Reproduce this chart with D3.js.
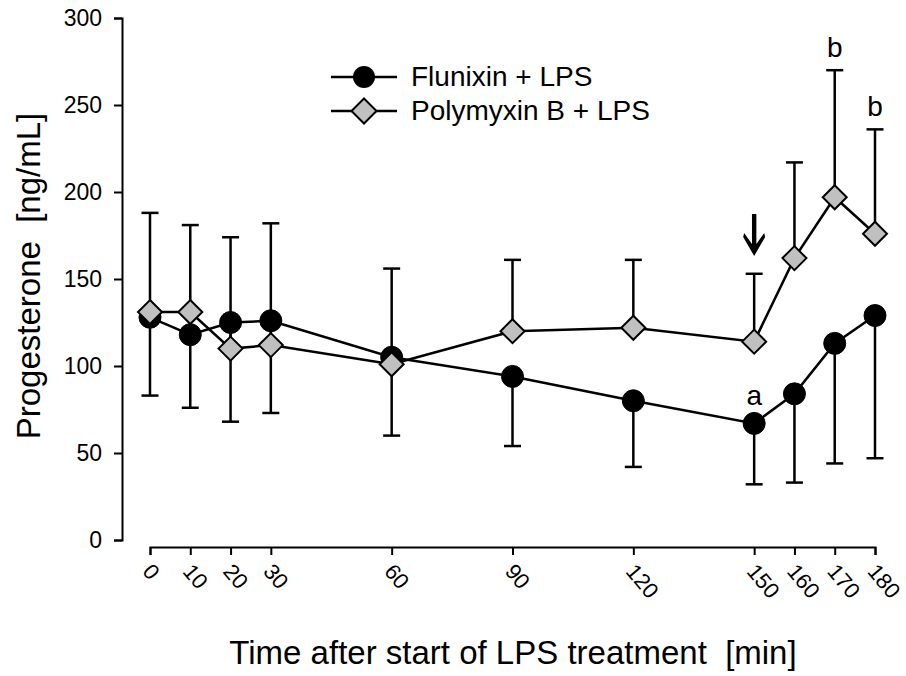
<!DOCTYPE html>
<html>
<head>
<meta charset="utf-8">
<script src="https://cdn.jsdelivr.net/npm/d3@7"></script>
<style>
  body { margin: 0; background: #fff; }
  svg { display: block; font-family: "Liberation Sans", Arial, sans-serif; }
</style>
</head>
<body>
<svg id="chart" width="906" height="676"></svg>
<script>
// ---- data ----
const times = [0, 10, 20, 30, 60, 90, 120, 150, 160, 170, 180];
const flunixinMean = [128, 118, 125, 126, 105, 94, 80, 67, 84, 113, 129];
const flunixinLower = [83, 76, 68, 73, 60, 54, 42, 32, 33, 44, 47];
const polymyxinMean = [131, 131, 110, 112, 101, 120, 122, 114, 162, 197, 176];
const polymyxinUpper = [188, 181, 174, 182, 156, 161, 161, 153, 217, 270, 236];
const yTicks = [0, 50, 100, 150, 200, 250, 300];
const seriesNames = ["Flunixin + LPS", "Polymyxin B + LPS"];
const sigLabels = [
  { t: 150, v: 67, text: "a", series: "low" },
  { t: 170, v: 270, text: "b", series: "up" },
  { t: 180, v: 236, text: "b", series: "up" }
];
const arrowTime = 150;

// ---- layout ----
const svg = d3.select("#chart");
const x = d3.scaleLinear().domain([0, 180]).range([150, 875]);
const y = d3.scaleLinear().domain([0, 300]).range([540, 18]);

// y axis
const yAxis = svg.append("g")
  .attr("transform", "translate(122,0)")
  .call(d3.axisLeft(y).tickValues(yTicks).tickSize(8).tickSizeOuter(8).tickPadding(12));
yAxis.select(".domain").attr("stroke", "#000").attr("stroke-width", 2);
yAxis.selectAll(".tick line").attr("stroke", "#000").attr("stroke-width", 2);
yAxis.selectAll(".tick text").attr("font-size", 23).attr("fill", "#000")
  .attr("font-family", "Liberation Sans, Arial, sans-serif");

// x axis
const xAxis = svg.append("g")
  .attr("transform", "translate(0,547)")
  .call(d3.axisBottom(x).tickValues(times).tickSize(8).tickSizeOuter(8).tickFormat(d3.format("d")));
xAxis.select(".domain").attr("stroke", "#000").attr("stroke-width", 2);
xAxis.selectAll(".tick line").attr("stroke", "#000").attr("stroke-width", 2);
xAxis.selectAll(".tick text")
  .attr("font-size", 22).attr("fill", "#000")
  .attr("font-family", "Liberation Sans, Arial, sans-serif")
  .attr("text-anchor", "start")
  .attr("dy", null).attr("y", null)
  .attr("transform", "translate(-9,25) rotate(50)");

// axis titles
svg.append("text")
  .attr("transform", "translate(40,276) rotate(-90)")
  .attr("text-anchor", "middle")
  .attr("font-size", 33)
  .attr("fill", "#000")
  .attr("xml:space", "preserve")
  .text("Progesterone  [ng/mL]");

svg.append("text")
  .attr("x", 513).attr("y", 664)
  .attr("text-anchor", "middle")
  .attr("font-size", 33)
  .attr("fill", "#000")
  .attr("xml:space", "preserve")
  .text("Time after start of LPS treatment  [min]");

// data tables
const flu = times.map((t, i) => ({ t, v: flunixinMean[i], e: flunixinLower[i] }));
const pol = times.map((t, i) => ({ t, v: polymyxinMean[i], e: polymyxinUpper[i] }));

const line = d3.line().x(d => x(d.t)).y(d => y(d.v));
const cap = 8.5;

// error bars
function errBars(data) {
  const g = svg.append("g").attr("stroke", "#000").attr("stroke-width", 2.5).attr("fill", "none");
  g.selectAll("line.v").data(data).join("line")
    .attr("x1", d => x(d.t)).attr("x2", d => x(d.t))
    .attr("y1", d => y(d.v)).attr("y2", d => y(d.e));
  g.selectAll("line.c").data(data).join("line")
    .attr("x1", d => x(d.t) - cap).attr("x2", d => x(d.t) + cap)
    .attr("y1", d => y(d.e)).attr("y2", d => y(d.e));
}
errBars(flu);
errBars(pol);

// lines
svg.append("path").datum(flu).attr("d", line)
  .attr("fill", "none").attr("stroke", "#000").attr("stroke-width", 2.5);
svg.append("path").datum(pol).attr("d", line)
  .attr("fill", "none").attr("stroke", "#000").attr("stroke-width", 2.5);

// markers
const diamond = (cx, cy, r) => `M${cx},${cy - r}L${cx + r},${cy}L${cx},${cy + r}L${cx - r},${cy}Z`;
svg.append("g").selectAll("circle").data(flu).join("circle")
  .attr("cx", d => x(d.t)).attr("cy", d => y(d.v)).attr("r", 11)
  .attr("fill", "#000").attr("stroke", "#000").attr("stroke-width", 1);
svg.append("g").selectAll("path").data(pol).join("path")
  .attr("d", d => diamond(x(d.t), y(d.v), 12))
  .attr("fill", "#c0c0c0").attr("stroke", "#000").attr("stroke-width", 2);

// significance letters
svg.append("g").selectAll("text").data(sigLabels).join("text")
  .attr("x", d => x(d.t))
  .attr("y", d => d.series === "low" ? y(d.v) - 18 : y(d.v) - 13)
  .attr("text-anchor", "middle")
  .attr("font-size", 28)
  .attr("fill", "#000")
  .text(d => d.text);

// arrow
const ax = x(arrowTime);
svg.append("path")
  .attr("d", `M${ax - 2.2},214 L${ax + 2.2},214 L${ax + 2.2},244 L${ax + 10},233 L${ax + 11},237 L${ax},256 L${ax - 11},237 L${ax - 10},233 L${ax - 2.2},244 Z`)
  .attr("fill", "#000");

// legend
const leg = svg.append("g");
const legY = [77, 111];
leg.selectAll("line").data(legY).join("line")
  .attr("x1", 331).attr("x2", 397).attr("y1", d => d).attr("y2", d => d)
  .attr("stroke", "#000").attr("stroke-width", 2.5);
leg.append("circle").attr("cx", 364).attr("cy", legY[0]).attr("r", 11).attr("fill", "#000");
leg.append("path").attr("d", diamond(364, legY[1], 12.5))
  .attr("fill", "#c0c0c0").attr("stroke", "#000").attr("stroke-width", 2);
leg.selectAll("text").data(seriesNames).join("text")
  .attr("x", 411).attr("y", (d, i) => legY[i] + 9)
  .attr("font-size", 28)
  .attr("fill", "#000")
  .text(d => d);
</script>
</body>
</html>
